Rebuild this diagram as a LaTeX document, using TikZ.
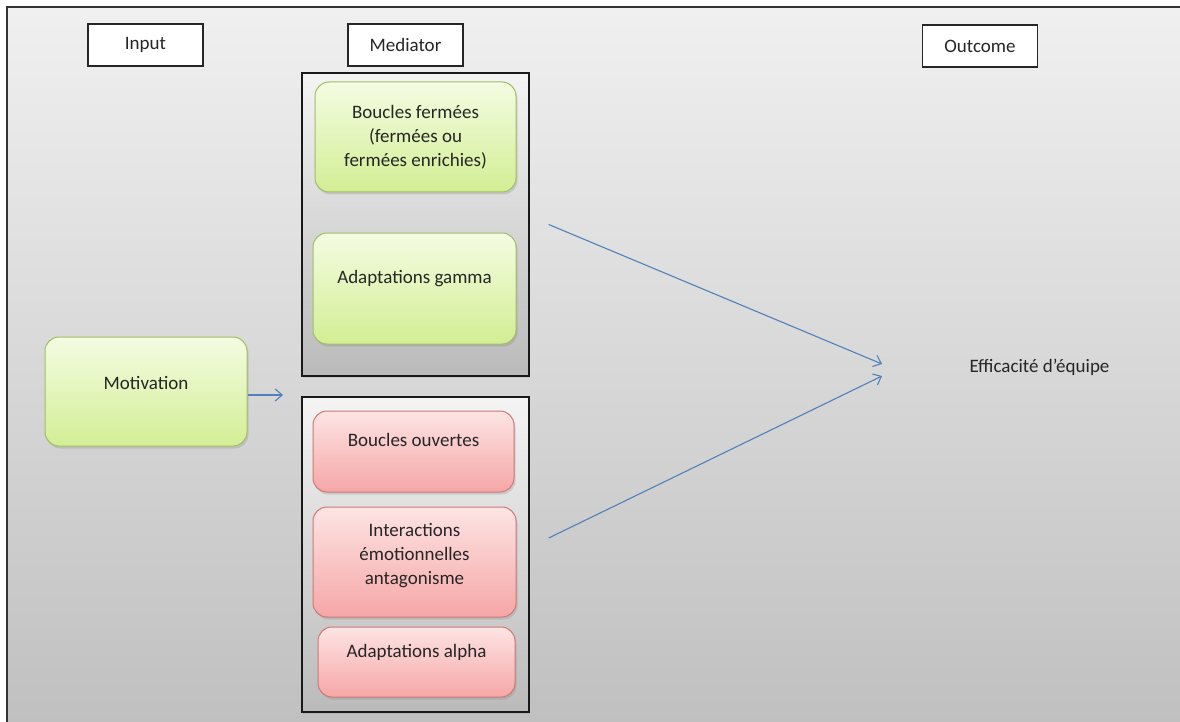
\documentclass[tikz,border=0pt]{standalone}
\usepackage{fontspec}
\setmainfont{Carlito}
\usetikzlibrary{arrows.meta,shadows}
\definecolor{bgtop}{RGB}{240,240,240}
\definecolor{bgbot}{RGB}{192,192,192}
\definecolor{grptop}{RGB}{244,244,244}
\definecolor{grpbot}{RGB}{186,186,186}
\definecolor{greentop}{RGB}{244,252,226}
\definecolor{greenbot}{RGB}{210,238,148}
\definecolor{greenline}{RGB}{160,190,100}
\definecolor{redtop}{RGB}{253,228,228}
\definecolor{redbot}{RGB}{246,166,166}
\definecolor{redline}{RGB}{205,120,118}
\definecolor{arrblue}{RGB}{79,129,189}
\tikzset{
  every node/.style={font={\fontsize{19pt}{24pt}\selectfont}, text=black!85},
  tagbox/.style={draw=black!85, line width=1.2pt, fill=white,
    minimum width=115pt, minimum height=42pt, inner sep=0pt},
  grpbox/.style={draw=black!90, line width=1.4pt, top color=grptop,
    bottom color=grpbot, inner sep=0pt, minimum width=227pt,
    drop shadow={shadow xshift=1pt, shadow yshift=-1.5pt, opacity=0.2}},
  softbox/.style={rounded corners=14pt, line width=1pt, inner sep=0pt,
    align=center,
    drop shadow={shadow xshift=1.5pt, shadow yshift=-2.5pt, opacity=0.25}},
  oneline/.style={text height=14pt, text depth=#1},
  greenbox/.style={softbox, draw=greenline, top color=greentop, bottom color=greenbot},
  redbox/.style={softbox, draw=redline, top color=redtop, bottom color=redbot},
  flowarrow/.style={draw=arrblue, line width=1.1pt,
    -{Straight Barb[length=7pt, width=12pt, line width=1.1pt]}}
}
\begin{document}
\begin{tikzpicture}[x=1pt,y=-1pt]
\useasboundingbox (0,0) rectangle (1180,722);
% frame: only the top and left edges fall inside the page
\fill[top color=bgtop, bottom color=bgbot] (7,7) rectangle (1180,722);
\draw[line width=1.3pt, draw=black!80] (7,722) -- (7,7) -- (1180,7);

% column titles
\node[tagbox] (input) at (145.5,45) {Input};
\node[tagbox] (mediator) at (405.5,45) {Mediator};
\node[tagbox] (outcome) at (980,46) {Outcome};

% mediator groups
\node[grpbox, minimum height=303pt] (upgrp) at (415.5,224.5) {};
\node[grpbox, minimum height=315pt] (lowgrp) at (415.5,554.5) {};

\node[greenbox, minimum width=201pt, minimum height=110pt]
  (fermees) at (415.5,137) {Boucles fermées\\(fermées ou\\fermées enrichies)};
\node[greenbox, oneline=23.8pt, minimum width=203pt, minimum height=111pt]
  (gamma) at (414.5,288.5) {Adaptations gamma};

\node[redbox, oneline=23.8pt, minimum width=201pt, minimum height=81pt]
  (ouvertes) at (413.5,451.5) {Boucles ouvertes};
\node[redbox, text depth=16pt, minimum width=203pt, minimum height=110pt]
  (interact) at (414.5,562) {Interactions\\émotionnelles\\antagonisme};
\node[redbox, oneline=22.8pt, minimum width=197pt, minimum height=70pt]
  (alpha) at (416.5,662) {Adaptations alpha};

% input and outcome
\node[greenbox, oneline=17.8pt, minimum width=202pt, minimum height=109pt]
  (motiv) at (146,391.5) {Motivation};
\node[anchor=west] (effic) at (966,367) {Efficacité d’équipe};

\coordinate (mgap) at (283,395);
\coordinate (meet) at (882,370);
\draw[flowarrow] (motiv.east |- mgap) -- (mgap);
\draw[flowarrow] ([xshift=19pt]upgrp.east) -- ([yshift=6pt]meet);
\draw[flowarrow] ([xshift=19pt,yshift=16.5pt]lowgrp.east) -- ([yshift=-6pt]meet);
\end{tikzpicture}
\end{document}
